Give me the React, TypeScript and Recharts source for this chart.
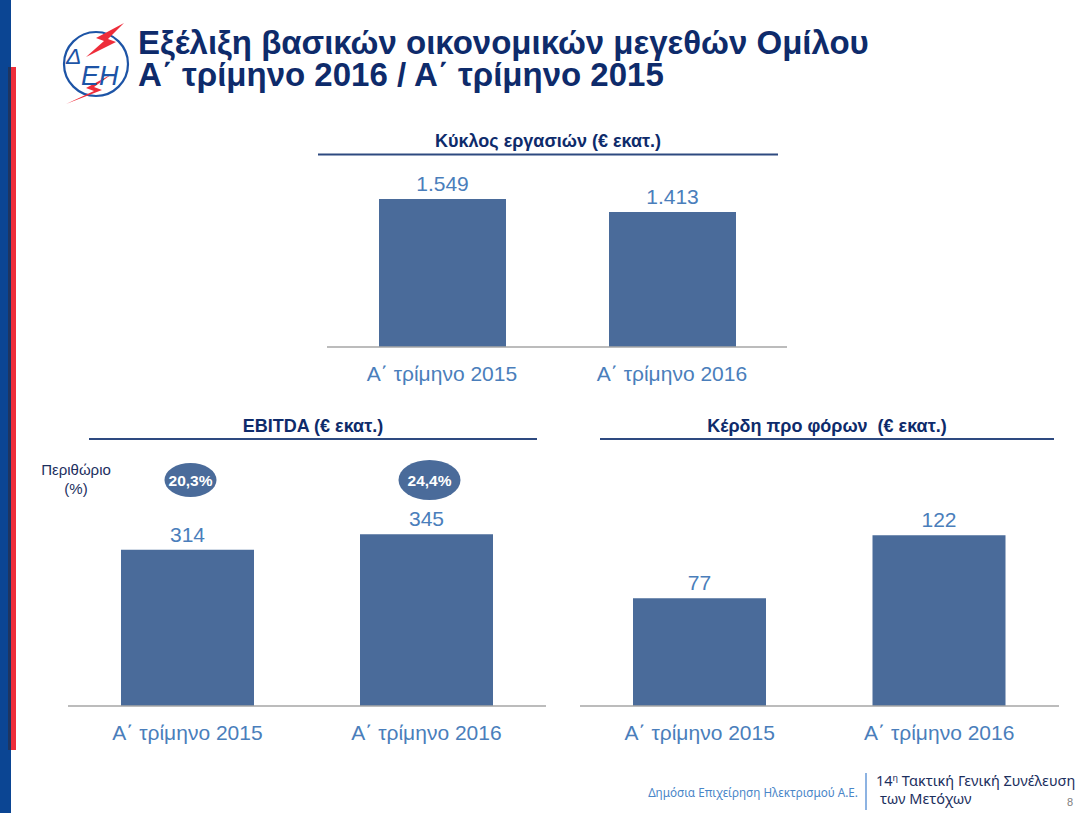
import React from "react";
import { BarChart, Bar, XAxis, YAxis, LabelList } from "recharts";

const categories = ["Α΄ τρίμηνο 2015", "Α΄ τρίμηνο 2016"];
const revenueValues = [1549, 1413];
const ebitdaValues = [314, 345];
const ebitdaMargins = ["20,3%", "24,4%"];
const profitValues = [77, 122];

const revenueData = categories.map((cat, i) => ({ cat, value: revenueValues[i] }));
const ebitdaData = categories.map((cat, i) => ({ cat, value: ebitdaValues[i], margin: ebitdaMargins[i] }));
const profitData = categories.map((cat, i) => ({ cat, value: profitValues[i] }));

const FONT = "'Liberation Sans', Arial, sans-serif";
const BAR = "#4A6B9A";
const LABEL = "#4A7EBB";
const NAVY = "#0E2B6B";

const fmt = (v: any) => String(v).replace(/\B(?=(\d{3})+(?!\d))/g, ".");

const axisProps = {
  dataKey: "cat",
  axisLine: { stroke: "#A6A6A6", strokeWidth: 1.5 },
  tickLine: false,
  tickSize: 0,
  tickMargin: 19,
  interval: 0 as const,
  height: 40,
  tick: { fill: LABEL, fontSize: 21, fontFamily: FONT },
};

const MarginBubble = (props: any) => {
  const vb = props.viewBox || {};
  const x = props.x ?? vb.x;
  const w = props.width ?? vb.width;
  const idx = props.index ?? 0;
  const cx = x + w / 2 + 3;
  const cy = 40;
  const rx = idx === 0 ? 26 : 31;
  const ry = idx === 0 ? 17 : 20;
  return (
    <g>
      <ellipse cx={cx} cy={cy} rx={rx} ry={ry} fill={BAR} />
      <text x={cx} y={cy + 5.5} textAnchor="middle" fill="#fff" fontSize={15.5} fontWeight="bold" fontFamily={FONT}>
        {props.value}
      </text>
    </g>
  );
};

export default function App() {
  return (
    <div style={{ position: "absolute", left: 0, top: 0, width: 1085, height: 814, background: "#fff", overflow: "hidden", fontFamily: FONT }}>
      <svg width={1085} height={814} style={{ position: "absolute", left: 0, top: 0 }}>
        {/* side stripes */}
        <rect x={0} y={0} width={11} height={813} fill="#0B4593" />
        <rect x={11} y={67} width={5} height={683} fill="#EE2D3A" />
        <rect x={8} y={67} width={3} height={683} fill="#1E3560" />
        {/* logo */}
        <circle cx={96} cy={64} r={32} fill="#fff" stroke="#1D54A6" strokeWidth={2.2} />
        <polygon points="124,23 96,38 104,41 86,57 116,42 108,39" fill="#EE2D3A" />
        <polygon points="112,74 86,88 94,91 66,104 102,90 94,87" fill="#EE2D3A" />
        <text x={66} y={64} fontSize={23} fontStyle="italic" fill="#1D54A6" fontFamily={FONT}>Δ</text>
        <text x={81} y={85} fontSize={27} fontStyle="italic" fill="#1D54A6" fontFamily={FONT}>ΕΗ</text>
        {/* main title */}
        <text x={138} y={54} fontSize={33} fontWeight="bold" fill={NAVY} fontFamily={FONT}>Εξέλιξη βασικών οικονομικών μεγεθών Ομίλου</text>
        <text x={138} y={86} fontSize={33} fontWeight="bold" fill={NAVY} fontFamily={FONT}>Α΄ τρίμηνο 2016 / Α΄ τρίμηνο 2015</text>
        {/* chart titles */}
        <text x={548} y={147} textAnchor="middle" fontSize={18} fontWeight="bold" fill={NAVY} fontFamily={FONT}>Κύκλος εργασιών (€ εκατ.)</text>
        <line x1={318} x2={778} y1={154.5} y2={154.5} stroke="#2E4A80" strokeWidth={2} />
        <text x={313} y={432} textAnchor="middle" fontSize={18} fontWeight="bold" fill={NAVY} fontFamily={FONT}>EBITDA (€ εκατ.)</text>
        <line x1={89} x2={537} y1={439} y2={439} stroke="#2E4A80" strokeWidth={2} />
        <text x={827} y={432} textAnchor="middle" fontSize={18} fontWeight="bold" fill={NAVY} fontFamily={FONT} style={{ whiteSpace: "pre" }}>Κέρδη προ φόρων  (€ εκατ.)</text>
        <line x1={600} x2={1054} y1={439} y2={439} stroke="#2E4A80" strokeWidth={2} />
        {/* margin legend */}
        <text x={76} y={475} textAnchor="middle" fontSize={15} fill="#1C2F5E" fontFamily={FONT}>Περιθώριο</text>
        <text x={76} y={494} textAnchor="middle" fontSize={15} fill="#1C2F5E" fontFamily={FONT}>(%)</text>
        {/* footer */}
        <text x={858} y={797} textAnchor="end" fontSize={11.7} fill="#4A86C8" fontFamily="'Noto Sans', sans-serif">Δημόσια Επιχείρηση Ηλεκτρισμού Α.Ε.</text>
        <line x1={866} x2={866} y1={773} y2={810} stroke="#8DB3E2" strokeWidth={2} />
        <text x={876} y={786} fontSize={14.5} fill="#1C2F5E" fontFamily="'Noto Sans', sans-serif">
          14<tspan fontSize={9} dy={-5}>η</tspan><tspan dy={5}> Τακτική Γενική Συνέλευση</tspan>
        </text>
        <text x={880} y={804} fontSize={14.5} fill="#1C2F5E" fontFamily="'Noto Sans', sans-serif">των Μετόχων</text>
        <text x={1073} y={806} textAnchor="end" fontSize={11} fill="#808080" fontFamily={FONT}>8</text>
      </svg>

      <div style={{ position: "absolute", left: 327, top: 120 }}>
        <BarChart width={460} height={267} data={revenueData} margin={{ top: 36, right: 0, bottom: 0, left: 0 }}>
          <XAxis {...axisProps} />
          <YAxis hide domain={[0, 2000]} />
          <Bar dataKey="value" fill={BAR} barSize={127} isAnimationActive={false}>
            <LabelList dataKey="value" position="top" offset={8} fill={LABEL} fontSize={21} fontFamily={FONT} formatter={fmt} />
          </Bar>
        </BarChart>
      </div>

      <div style={{ position: "absolute", left: 68, top: 440 }}>
        <BarChart width={478} height={306} data={ebitdaData} margin={{ top: 67, right: 0, bottom: 0, left: 0 }}>
          <XAxis {...axisProps} />
          <YAxis hide domain={[0, 400]} />
          <Bar dataKey="value" fill={BAR} barSize={133} isAnimationActive={false}>
            <LabelList dataKey="value" position="top" offset={8} fill={LABEL} fontSize={21} fontFamily={FONT} formatter={fmt} />
            <LabelList dataKey="margin" content={<MarginBubble />} />
          </Bar>
        </BarChart>
      </div>

      <div style={{ position: "absolute", left: 580, top: 440 }}>
        <BarChart width={479} height={306} data={profitData} margin={{ top: 70, right: 0, bottom: 0, left: 0 }}>
          <XAxis {...axisProps} />
          <YAxis hide domain={[0, 140]} />
          <Bar dataKey="value" fill={BAR} barSize={133} isAnimationActive={false}>
            <LabelList dataKey="value" position="top" offset={8} fill={LABEL} fontSize={21} fontFamily={FONT} formatter={fmt} />
          </Bar>
        </BarChart>
      </div>
    </div>
  );
}
